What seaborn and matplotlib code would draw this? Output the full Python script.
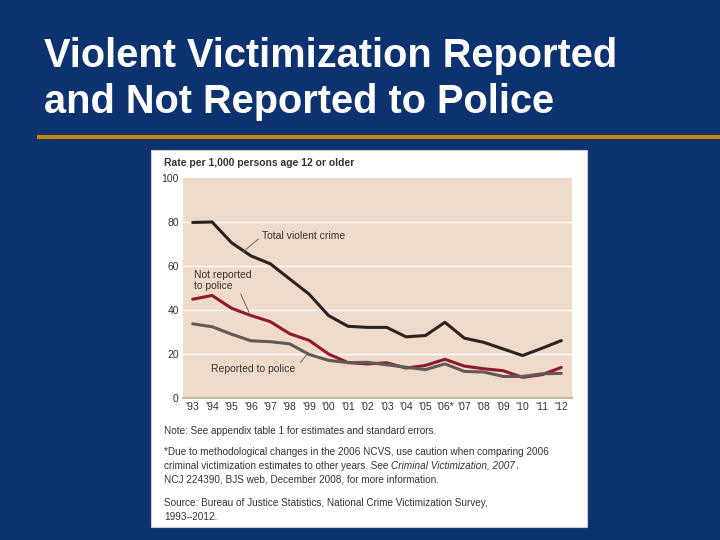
import pandas as pd
import seaborn as sns
import matplotlib.pyplot as plt
from matplotlib.patches import Rectangle

# data (rate per 1,000 persons age 12 or older)
years = ["'93", "'94", "'95", "'96", "'97", "'98", "'99", "'00", "'01", "'02",
         "'03", "'04", "'05", "'06*", "'07", "'08", "'09", "'10", "'11", "'12"]
total_violent = [79.8, 80.0, 70.6, 64.6, 61.0, 54.1, 47.2, 37.5, 32.6, 32.1,
                 32.1, 27.8, 28.4, 34.4, 27.2, 25.3, 22.3, 19.3, 22.6, 26.1]
not_reported = [44.9, 46.6, 40.8, 37.5, 34.7, 29.2, 26.2, 20.0, 16.1, 15.5,
                16.0, 13.6, 14.8, 17.6, 14.5, 13.3, 12.4, 9.4, 10.6, 13.9]
reported = [33.7, 32.4, 29.0, 26.0, 25.6, 24.6, 19.8, 17.1, 16.1, 16.2,
            15.1, 14.0, 12.9, 15.5, 12.1, 11.8, 9.8, 9.8, 11.0, 11.2]

series_names = ['Total violent crime', 'Not reported to police', 'Reported to police']

df = pd.DataFrame({'year': years, 'x': range(len(years)),
                   series_names[0]: total_violent,
                   series_names[1]: not_reported,
                   series_names[2]: reported})
dflong = df.melt(id_vars=['year', 'x'], var_name='series', value_name='rate')

navy = '#0D3270'
gold = '#B8862A'
tan = '#F0DACA'
palette = {series_names[0]: '#2B2320',
           series_names[1]: '#8E1A2E',
           series_names[2]: '#5F5A55'}

sns.set_theme(style='white')
plt.rcParams['font.family'] = ['Liberation Sans', 'DejaVu Sans']

fig = plt.figure(figsize=(7.2, 5.4), dpi=100, facecolor=navy)

# slide title and rule
fig.text(44 / 720, 1 - 67 / 540, 'Violent Victimization Reported', color='white',
         fontsize=28.6, fontweight='bold', va='baseline')
fig.text(44 / 720, 1 - 113 / 540, 'and Not Reported to Police', color='white',
         fontsize=28.6, fontweight='bold', va='baseline')
fig.add_artist(Rectangle((36 / 720, 1 - 139 / 540), 684 / 720, 5.5 / 540,
                         transform=fig.transFigure, facecolor=gold,
                         edgecolor='#2a2a20', lw=0.6, zorder=-1))

# white panel
fig.add_artist(Rectangle((151 / 720, 1 - 527 / 540), 436 / 720, 377 / 540,
                         transform=fig.transFigure, facecolor='white',
                         edgecolor='#cccccc', lw=0.8, zorder=-1))

ax = fig.add_axes([183 / 720, 1 - 398 / 540, 389 / 720, 220 / 540])
ax.set_facecolor(tan)

sns.lineplot(data=dflong, x='x', y='rate', hue='series', palette=palette,
             linewidth=2.2, legend=False, ax=ax)

ax.set_xlim(-0.5, 19.55)
ax.set_ylim(0, 100)
ax.set_yticks([0, 20, 40, 60, 80, 100])
ax.set_xticks(range(len(years)))
ax.set_xticklabels(years)
for v in [20, 40, 60, 80]:
    ax.axhline(v, color='white', lw=1, zorder=0)
ax.tick_params(axis='both', length=0, labelsize=7.5, colors='#333333', pad=3)
ax.set_xlabel('')
ax.set_ylabel('')
for s in ax.spines.values():
    s.set_visible(False)
ax.spines['bottom'].set_visible(True)
ax.spines['bottom'].set_color('#c8b8aa')
ax.spines['bottom'].set_linewidth(1.5)

# labels with leader lines
lbl = dict(fontsize=7.5, color='#333333', ha='left', va='center')
ax.annotate('Total violent crime', xy=(2.6, 66.5), xytext=(3.55, 73.5),
            arrowprops=dict(arrowstyle='-', color='#555555', lw=0.6,
                            relpos=(0.0, 0.5), shrinkA=0, shrinkB=0), **lbl)
ax.annotate('Not reported\nto police', xy=(2.9, 39.0), xytext=(0.05, 53.5),
            arrowprops=dict(arrowstyle='-', color='#555555', lw=0.6,
                            relpos=(0.74, 0.3), shrinkA=0, shrinkB=0),
            linespacing=1.1, **lbl)
ax.annotate('Reported to police', xy=(5.95, 20.5), xytext=(0.95, 13.2),
            arrowprops=dict(arrowstyle='-', color='#555555', lw=0.6,
                            relpos=(1.0, 0.5), shrinkA=2, shrinkB=0), **lbl)

# panel header and notes
fig.text(164 / 720, 1 - 163 / 540, 'Rate per 1,000 persons age 12 or older',
         fontsize=7.5, fontweight='bold', color='#333333', va='center')
note = dict(fontsize=7.2, color='#333333', va='center')
fig.text(164 / 720, 1 - 431 / 540, 'Note: See appendix table 1 for estimates and standard errors.', **note)
fig.text(164 / 720, 1 - 452 / 540,
         '*Due to methodological changes in the 2006 NCVS, use caution when comparing 2006', **note)

# line with an italic title in the middle
renderer = fig.canvas.get_renderer()
x0 = 164 / 720
parts = [('criminal victimization estimates to other years. See ', 'normal'),
         ('Criminal Victimization, 2007', 'italic'),
         (',', 'normal')]
for txt, sty in parts:
    t = fig.text(x0, 1 - 466 / 540, txt, style=sty, **note)
    bb = t.get_window_extent(renderer=renderer)
    x0 += bb.width / fig.bbox.width

fig.text(164 / 720, 1 - 480 / 540,
         'NCJ 224390, BJS web, December 2008, for more information.', **note)
fig.text(164 / 720, 1 - 503 / 540,
         'Source: Bureau of Justice Statistics, National Crime Victimization Survey,', **note)
fig.text(164 / 720, 1 - 517 / 540, '1993\u20132012.', **note)

fig.savefig('out.png', dpi=100, facecolor=navy)
